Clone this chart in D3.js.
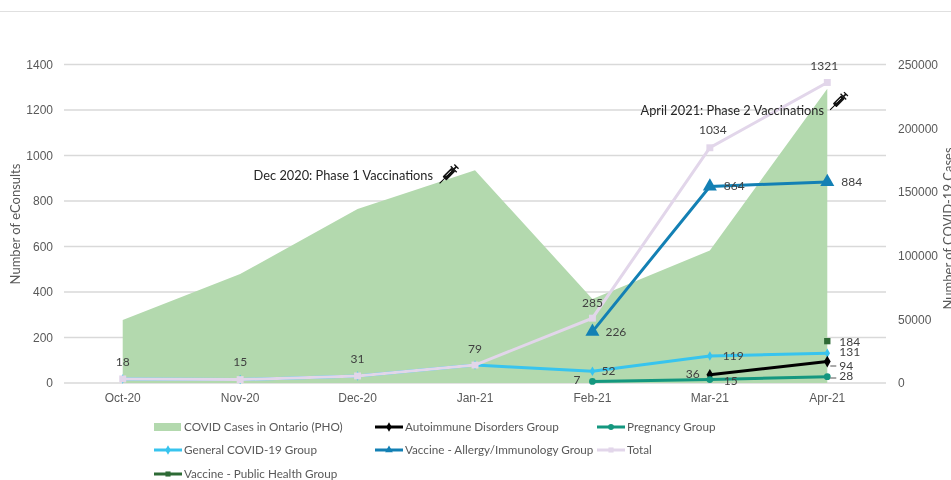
<!DOCTYPE html>
<html><head><meta charset="utf-8">
<script src="https://cdnjs.cloudflare.com/ajax/libs/d3/7.8.5/d3.min.js"></script>
<style>
html,body{margin:0;padding:0;background:#fff;overflow:hidden}
svg{display:block;font-family:Lato,"Open Sans",sans-serif;filter:blur(0.3px)}
</style></head><body>
<svg id="c" width="951" height="480"></svg>
<script>
const months = ["Oct-20","Nov-20","Dec-20","Jan-21","Feb-21","Mar-21","Apr-21"];
const leftTicks = [0,200,400,600,800,1000,1200,1400];
const rightTicks = [0,50000,100000,150000,200000,250000];
const covidCases = [49500,85500,136500,167000,66000,104000,231000];
const autoimmune = [null,null,null,null,null,36,94];
const pregnancy = [null,null,null,null,7,15,28];
const generalCovid = [18,15,31,79,52,119,131];
const vaccineAllergy = [null,null,null,null,226,864,884];
const total = [18,15,31,79,285,1034,1321];
const vaccinePublic = [null,null,null,null,null,null,184];

const svg = d3.select("#c");
const L=64,R=886,T=64.5,B=383;
const x = d3.scaleBand().domain(months).range([L,R]);
const cx = m => x(m)+x.bandwidth()/2;
const yL = d3.scaleLinear().domain([0,1400]).range([B,T]);
const yR = d3.scaleLinear().domain([0,250000]).range([B,T]);
const txt = "#404040", tick="#595959";

svg.append("line").attr("x1",0).attr("x2",951).attr("y1",11.5).attr("y2",11.5).attr("stroke","#e0e0e0");

// grid and axes
const axL = d3.axisLeft(yL).tickValues(leftTicks).tickSize(0).tickPadding(11).tickFormat(d3.format("d"));
const gL = svg.append("g").attr("transform",`translate(${L},0)`).call(axL);
gL.select(".domain").remove();
gL.selectAll("text").attr("fill",tick).style("font-size","12px").style("font-family","inherit");
const axR = d3.axisRight(yR).tickValues(rightTicks).tickSize(0).tickPadding(12).tickFormat(d3.format("d"));
const gR = svg.append("g").attr("transform",`translate(${R},0)`).call(axR);
gR.select(".domain").remove();
gR.selectAll("text").attr("fill",tick).style("font-size","12px").style("font-family","inherit");
const axX = d3.axisBottom(x).tickSize(0).tickPadding(10);
const gX = svg.append("g").attr("transform",`translate(0,${B})`).call(axX);
gX.select(".domain").remove();
gX.selectAll("text").attr("fill",tick).style("font-size","12px").style("font-family","inherit");

svg.append("g").selectAll("line").data(leftTicks).join("line")
  .attr("x1",L).attr("x2",R).attr("y1",d=>yL(d)).attr("y2",d=>yL(d))
  .attr("stroke","#d9d9d9").attr("stroke-width",1.3);

svg.append("text").attr("transform",`translate(20,${224}) rotate(-90)`).attr("text-anchor","middle")
  .attr("fill",tick).style("font-size","13px").text("Number of eConsults");
svg.append("text").attr("transform",`translate(952.5,${228.5}) rotate(-90)`).attr("text-anchor","middle")
  .attr("fill",tick).style("font-size","13px").text("Number of COVID-19 Cases");

// area
const area = d3.area().x((d,i)=>cx(months[i])).y0(B).y1(d=>yR(d));
svg.append("path").datum(covidCases).attr("d",area).attr("fill","#b3d9ae");

const lineGen = d3.line().defined(d=>d!=null).x((d,i)=>cx(months[i])).y(d=>yL(d));
function drawSeries(vals,color,w,sym,size){
  const g=svg.append("g");
  g.append("path").datum(vals).attr("d",lineGen).attr("fill","none").attr("stroke",color).attr("stroke-width",w);
  g.selectAll("path.m").data(vals.map((v,i)=>({v,i})).filter(d=>d.v!=null)).join("path").attr("class","m")
    .attr("d",d3.symbol().type(sym).size(size))
    .attr("transform",d=>`translate(${cx(months[d.i])},${yL(d.v)})`).attr("fill",color);
}
drawSeries(generalCovid,"#38c4ee",3,d3.symbolDiamond,26);
drawSeries(total,"#e2d6ea",3,d3.symbolSquare,48);
drawSeries(vaccineAllergy,"#1380b4",3,d3.symbolTriangle,85);
drawSeries(autoimmune,"#000000",3,d3.symbolDiamond,40);
drawSeries(pregnancy,"#14977f",3,d3.symbolCircle,36);
drawSeries(vaccinePublic,"#2d6a35",3,d3.symbolSquare,40);

function lab(vals,i,dx,dy,anchor){
  svg.append("text").attr("x",cx(months[i])+dx).attr("y",yL(vals[i])+dy)
    .attr("text-anchor",anchor||"middle").attr("dominant-baseline","middle")
    .attr("fill",txt).style("font-size","12px").text(vals[i]);
}
[[0,0,-16],[1,0,-17],[2,0,-16],[3,0,-15],[4,0,-14],[5,3,-17],[6,-3,-16]].forEach(a=>lab(total,a[0],a[1],a[2]));
lab(vaccineAllergy,4,13,1,"start");
lab(vaccineAllergy,5,14,1,"start");
lab(vaccineAllergy,6,14,1,"start");
lab(generalCovid,4,9,1,"start");
lab(generalCovid,5,13,1,"start");
lab(generalCovid,6,12,0,"start");
lab(pregnancy,4,-19,0,"start");
lab(pregnancy,5,14,2,"start");
lab(pregnancy,6,12,0,"start");
lab(autoimmune,5,-24,0,"start");
lab(autoimmune,6,12,5,"start");
lab(vaccinePublic,6,12,2,"start");
const leaders=[[6,366],[6,378]];
leaders.forEach(([i,y])=>svg.append("line").attr("x1",cx(months[i])+3).attr("x2",cx(months[i])+9).attr("y1",y).attr("y2",y).attr("stroke","#555").attr("stroke-width",1));

// annotations
function syringe(px,py,s){
  const g=svg.append("g").attr("transform",`translate(${px},${py}) rotate(-45) scale(${s})`);
  g.append("line").attr("x1",-14).attr("x2",-5).attr("y1",0).attr("y2",0).attr("stroke","#000").attr("stroke-width",1.2);
  g.append("rect").attr("x",-6).attr("y",-3.2).attr("width",15).attr("height",6.4).attr("rx",1).attr("fill","#111");
  g.append("line").attr("x1",-2).attr("x2",6).attr("y1",-1).attr("y2",-1).attr("stroke","#fff").attr("stroke-width",1);
  g.append("line").attr("x1",9).attr("x2",14).attr("y1",0).attr("y2",0).attr("stroke","#111").attr("stroke-width",2);
  g.append("line").attr("x1",9.5).attr("x2",9.5).attr("y1",-5).attr("y2",5).attr("stroke","#111").attr("stroke-width",1.6);
  g.append("line").attr("x1",14).attr("x2",14).attr("y1",-3.5).attr("y2",3.5).attr("stroke","#111").attr("stroke-width",1.6);
}
const notes=[["Dec 2020: Phase 1 Vaccinations",433,176.5],["April 2021: Phase 2 Vaccinations",824,111.5]];
svg.append("g").selectAll("text").data(notes).join("text").attr("x",d=>d[1]).attr("y",d=>d[2])
  .attr("text-anchor","end").attr("dominant-baseline","middle").attr("fill","#262626")
  .style("font-size","12.8px").text(d=>d[0]);
syringe(448,175,0.85);
syringe(838,102,0.8);

// legend
const legendItems=[
 ["COVID Cases in Ontario (PHO)","area","#b3d9ae",null,154,427],
 ["Autoimmune Disorders Group","line","#000000",d3.symbolDiamond,375,427],
 ["Pregnancy Group","line","#14977f",d3.symbolCircle,597,427],
 ["General COVID-19 Group","line","#38c4ee",d3.symbolDiamond,154,450],
 ["Vaccine - Allergy/Immunology Group","line","#1380b4",d3.symbolTriangle,375,450],
 ["Total","line","#e2d6ea",d3.symbolSquare,597,450],
 ["Vaccine - Public Health Group","line","#2d6a35",d3.symbolSquare,154,474]
];
legendItems.forEach(([name,kind,color,sym,lx,ly])=>{
  const g=svg.append("g");
  if(kind==="area"){
    g.append("rect").attr("x",lx).attr("y",ly-4).attr("width",27).attr("height",8).attr("fill",color);
  } else {
    g.append("line").attr("x1",lx).attr("x2",lx+28).attr("y1",ly).attr("y2",ly).attr("stroke",color).attr("stroke-width",3);
    g.append("path").attr("d",d3.symbol().type(sym).size(26)).attr("transform",`translate(${lx+14},${ly})`).attr("fill",color);
  }
  g.append("text").attr("x",lx+30).attr("y",ly+1.5).attr("dominant-baseline","middle").attr("fill",tick)
    .style("font-size","11.7px").text(name);
});
</script>
</body></html>
